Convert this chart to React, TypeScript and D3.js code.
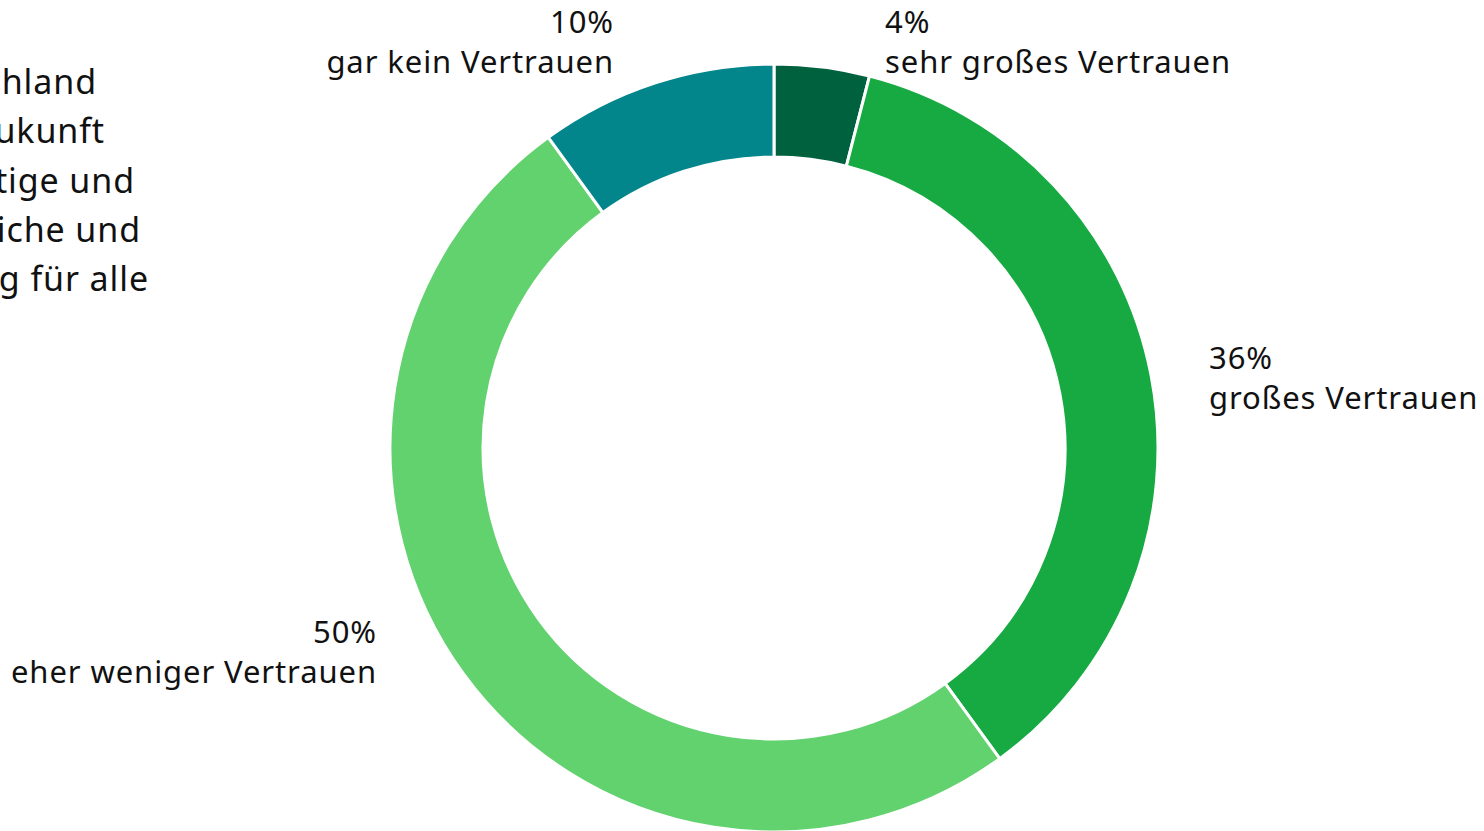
import React, { useRef, useEffect } from 'react'
import * as d3 from 'd3'

const categories = ['sehr großes Vertrauen', 'großes Vertrauen', 'eher weniger Vertrauen', 'gar kein Vertrauen']
const values = [4, 36, 50, 10]
const colors = ['#00613f', '#17aa42', '#62d26f', '#02868c']
// label anchor per slice: [x, y of first line, text-anchor]
const labelPos: [number, number, string][] = [
  [885, 33, 'start'],
  [1209, 369, 'start'],
  [377, 643, 'end'],
  [614, 33, 'end'],
]
const introLines = [
  'Vertrauen darauf, dass Deutschland',
  'die Herausforderungen der Zukunft',
  'bewältigt und eine nachhaltige und',
  'wirtschaftliche, gesellschaftliche und',
  'ökologische Entwicklung für alle',
]
const introRight = [97, 105, 135, 141, 149]

export default function App() {
  const ref = useRef<SVGSVGElement>(null)
  const w = 1484
  const h = 831

  useEffect(() => {
    const svg = d3.select(ref.current)
    svg.selectAll('*').remove()
    const font = '"Noto Sans", "Open Sans", sans-serif'

    const cx = 774
    const cy = 448
    const outer = 384
    const inner = 291

    const pie = d3.pie<number>().sort(null).value(d => d)
    const arc = d3.arc<d3.PieArcDatum<number>>().innerRadius(inner).outerRadius(outer)

    const g = svg.append('g').attr('transform', `translate(${cx},${cy})`)
    g.selectAll('path')
      .data(pie(values))
      .enter()
      .append('path')
      .attr('d', arc)
      .attr('fill', (d, i) => colors[i])
      .attr('stroke', '#fff')
      .attr('stroke-width', 3)

    const labels = svg.selectAll('g.lbl')
      .data(categories)
      .enter()
      .append('text')
      .attr('font-family', font)
      .attr('font-size', 31)
      .attr('letter-spacing', 0.9)
      .attr('fill', '#111')
      .attr('text-anchor', (d, i) => labelPos[i][2])
    labels.append('tspan')
      .attr('x', (d, i) => labelPos[i][0])
      .attr('y', (d, i) => labelPos[i][1])
      .text((d, i) => values[i] + '%')
    labels.append('tspan')
      .attr('x', (d, i) => labelPos[i][0])
      .attr('y', (d, i) => labelPos[i][1] + 40)
      .text(d => d)

    svg.append('g')
      .selectAll('text')
      .data(introLines)
      .enter()
      .append('text')
      .attr('x', (d, i) => introRight[i])
      .attr('y', (d, i) => 94 + i * 49.3)
      .attr('text-anchor', 'end')
      .attr('font-family', font)
      .attr('font-size', 34)
      .attr('letter-spacing', 0.9)
      .attr('fill', '#111')
      .text(d => d)
  }, [])

  return (
    <div style={{ position: 'absolute', left: 0, top: 0 }}>
      <svg ref={ref} width={w} height={h} style={{ display: 'block', background: '#fff' }} />
    </div>
  )
}
